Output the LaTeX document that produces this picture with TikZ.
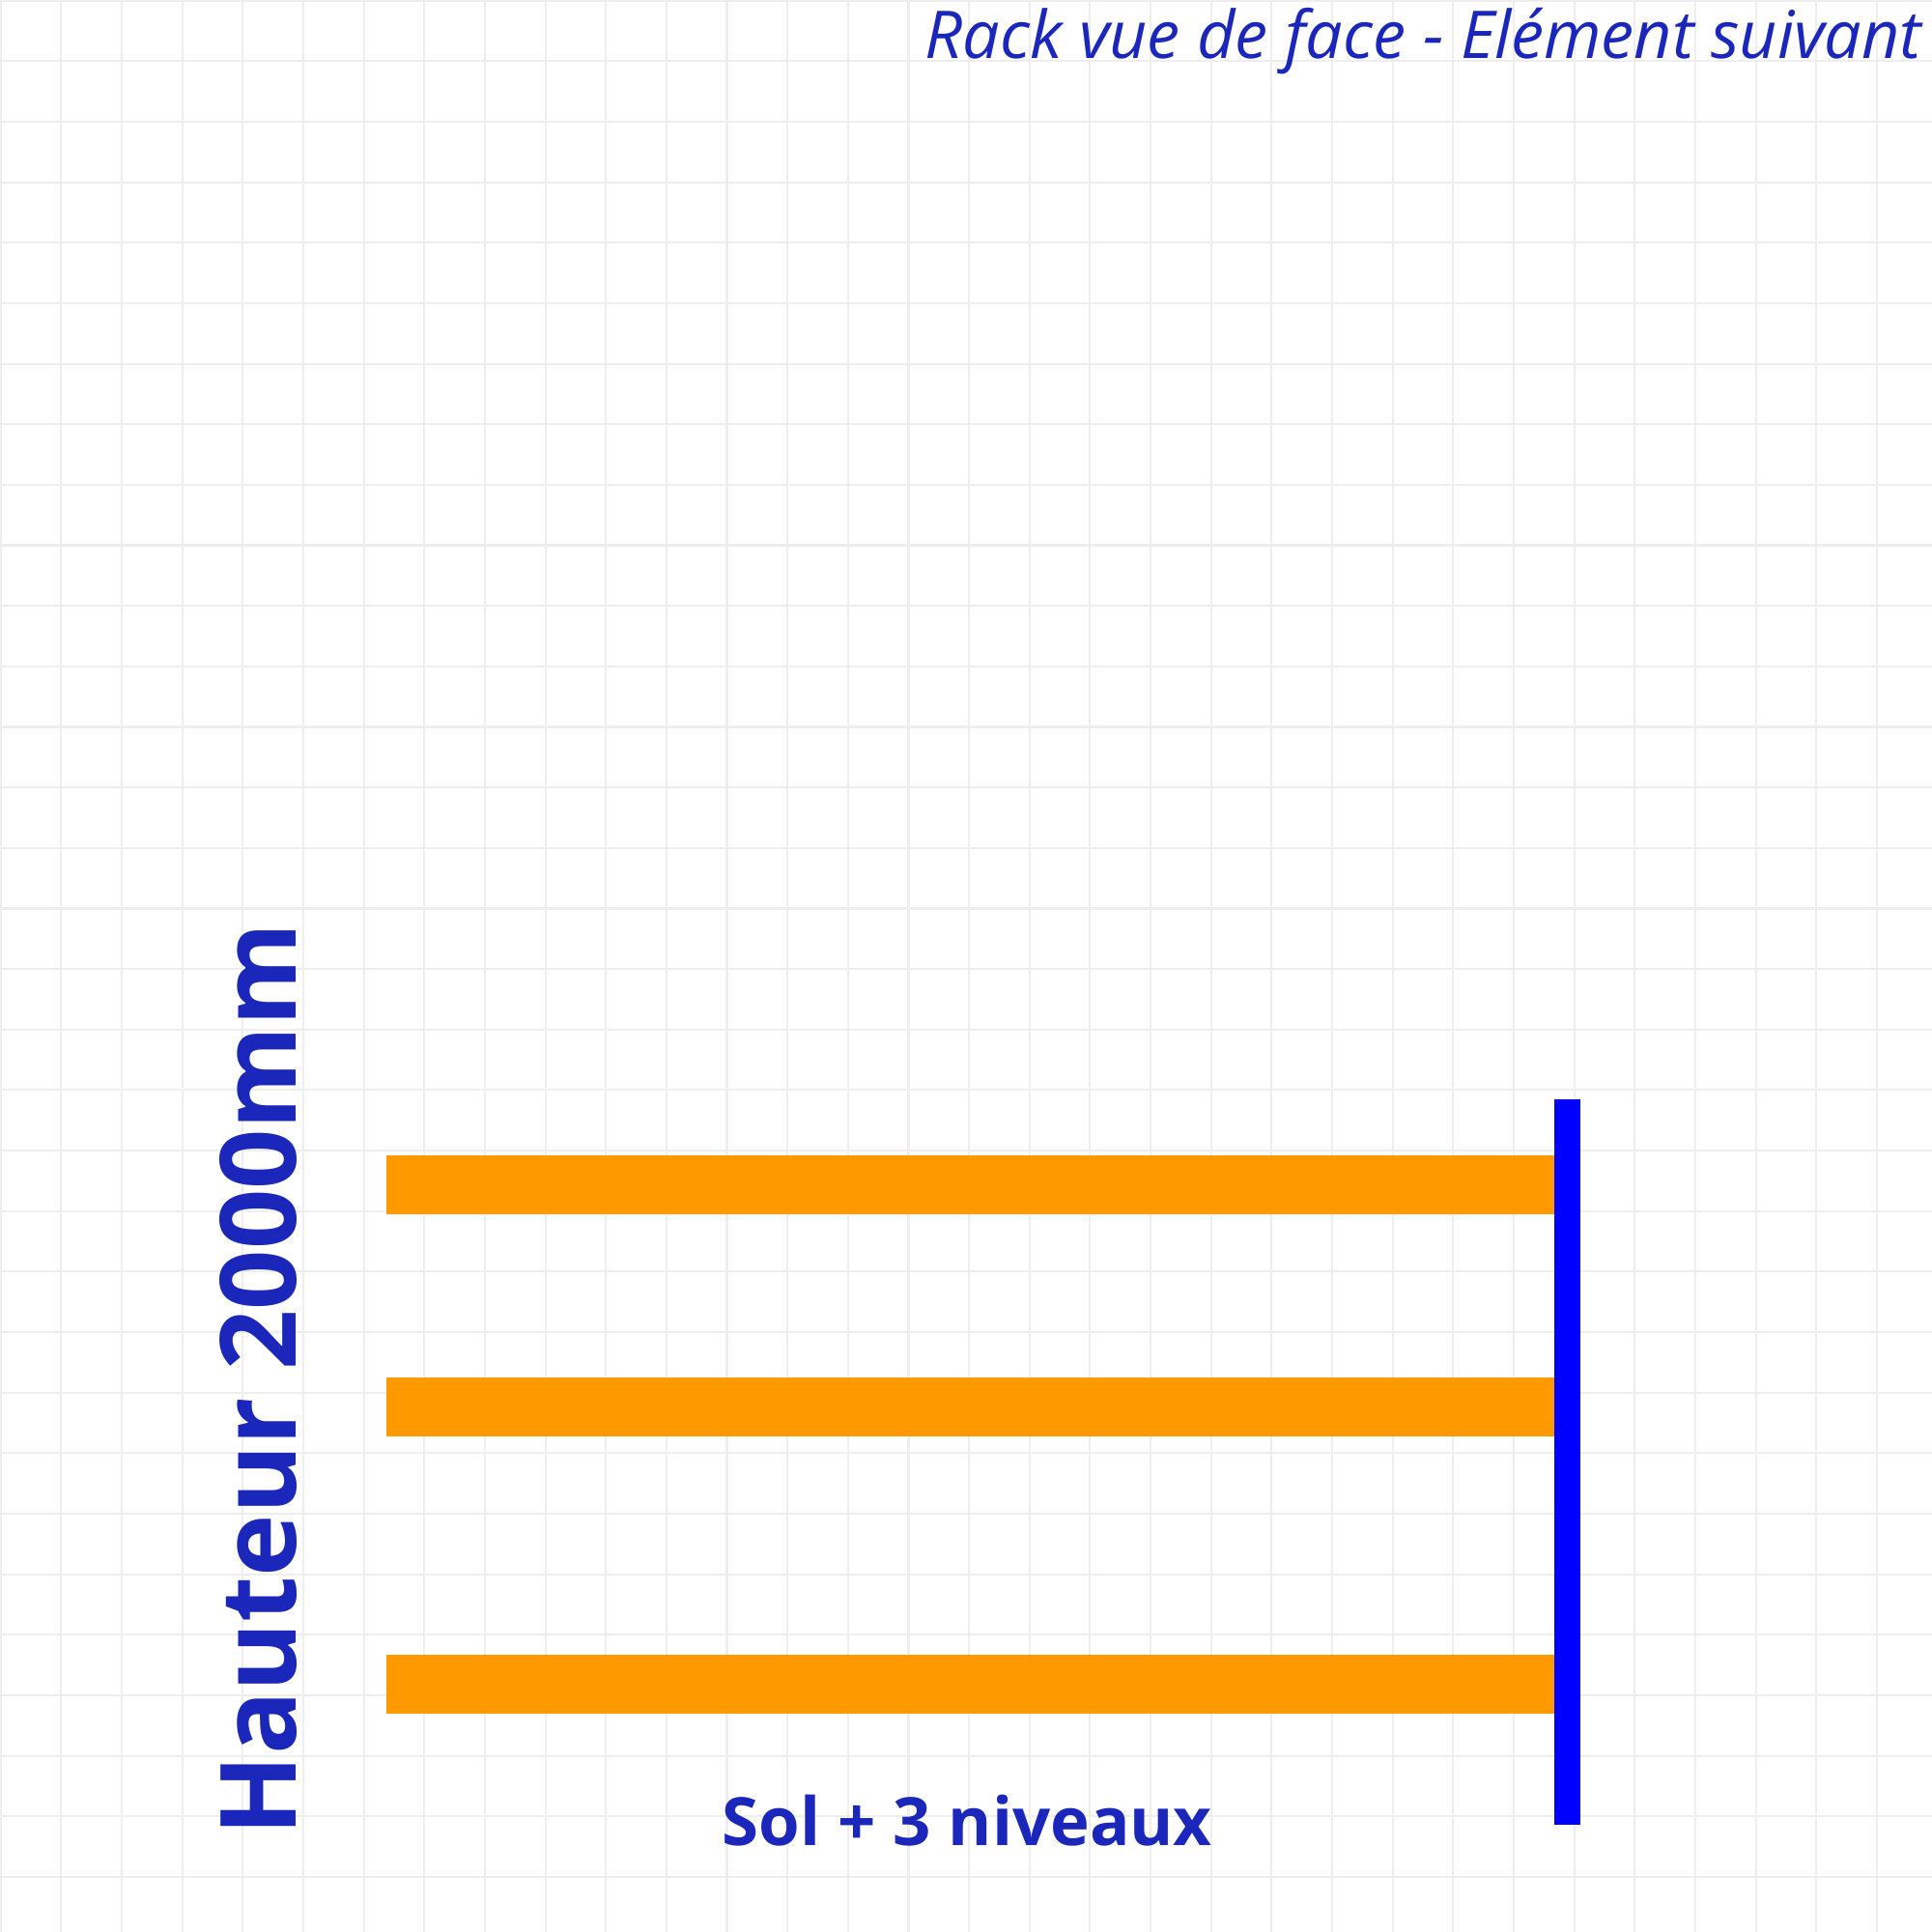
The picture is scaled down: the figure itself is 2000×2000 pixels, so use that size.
\documentclass[tikz,border=0pt]{standalone}
\usepackage{fontspec}
\setmainfont{Open Sans}
\usepackage{tikz}
\definecolor{gridgrey}{HTML}{EEEEEE}
\definecolor{shelforange}{HTML}{FF9900}
\definecolor{postblue}{HTML}{0000FF}
\definecolor{labelblue}{HTML}{1A27BA}

\begin{document}
\begin{tikzpicture}[x=0.01cm,y=-0.01cm]
         \tikzset{gridline/.style={draw=gridgrey,line width=0.6pt}}
         \tikzset{shelf/.style={fill=shelforange}}
         \tikzset{post/.style={fill=postblue}}
         \tikzset{every node/.style={text=labelblue,inner sep=0pt}}
         \useasboundingbox (0,0) rectangle (2000,2000);
         \fill[white] (0,0) rectangle (2000,2000);
         % squared paper
         \foreach \k in {0,...,31} {
            \draw[gridline] (0.7+\k*62.65,0) -- (0.7+\k*62.65,2000);
            \draw[gridline] (0,0.7+\k*62.65) -- (2000,0.7+\k*62.65);
         }
         % shelves and upright
         \fill[shelf] (400,1196) rectangle (1609,1257);
         \fill[shelf] (400,1426) rectangle (1609,1487);
         \fill[shelf] (400,1713) rectangle (1609,1774);
         \fill[post] (1609,1138) rectangle (1636,1889);
         % labels
         \node[anchor=base east,font=\fontsize{19.4}{24}\selectfont\itshape] (titre) at (1990,61) {Rack vue de face - Elément suivant};
         \node[anchor=base west,rotate=90,font=\fontsize{31}{36}\selectfont\bfseries] (hauteur) at (306,1901) {Hauteur 2000mm};
         \node[anchor=base west,font=\fontsize{19.6}{24}\selectfont\bfseries] (niveaux) at (747,1910) {Sol + 3 niveaux};
      \end{tikzpicture}
\end{document}
